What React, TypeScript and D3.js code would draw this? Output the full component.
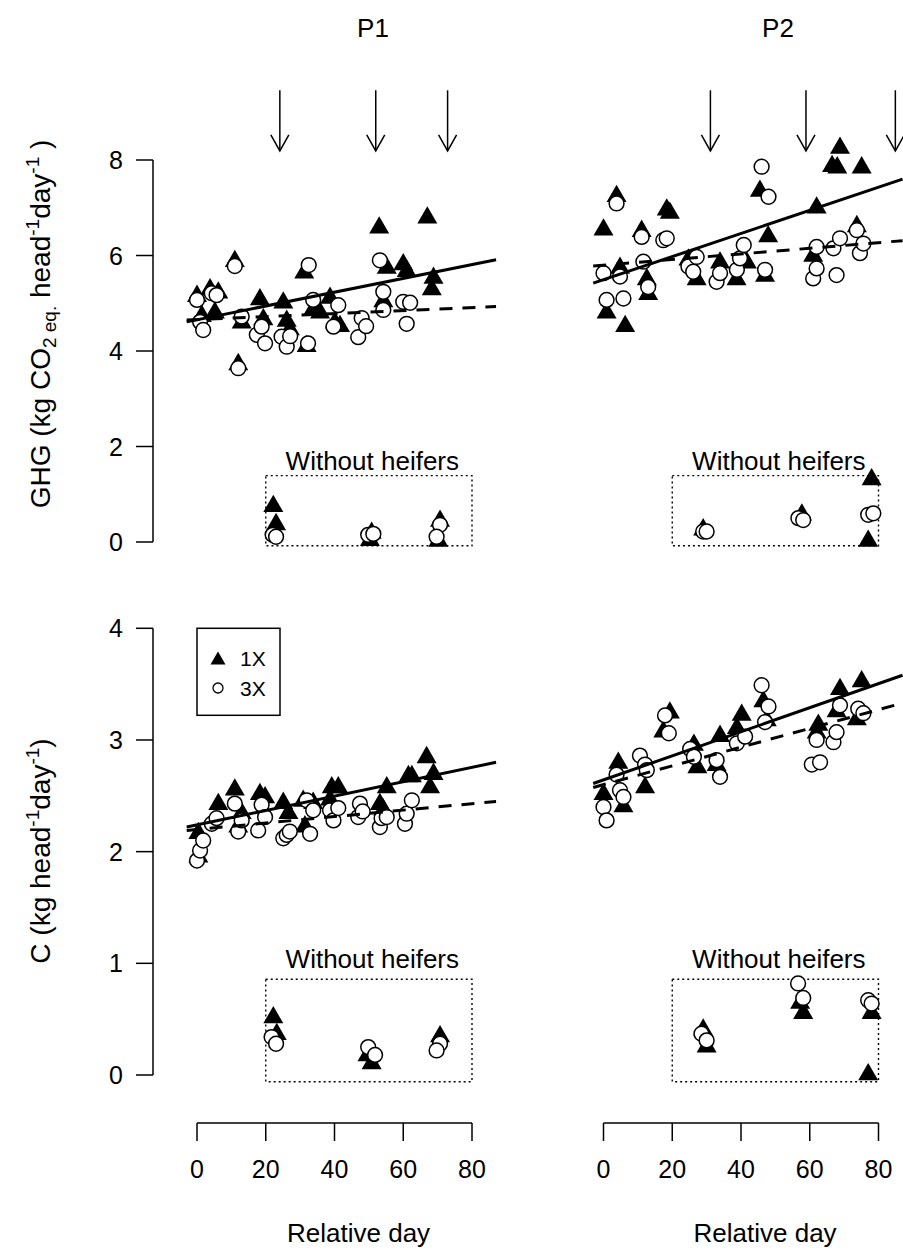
import React from "react";
import * as d3 from "d3";

const FONT = "'Liberation Sans', Arial, Helvetica, sans-serif";

// axis ticks
const dayTicks = [0, 20, 40, 60, 80];
const ghgTicks = [0, 2, 4, 6, 8];
const cTicks = [0, 1, 2, 3, 4];
const periods = ["P1", "P2"];

// regression lines: values at day -3 and day 87
const fitDays = [-3, 87];
const p1GhgSolid = [4.61, 5.91];
const p1GhgDashed = [4.65, 4.93];
const p2GhgSolid = [5.42, 7.6];
const p2GhgDashed = [5.78, 6.31];
const p1CSolid = [2.22, 2.8];
const p1CDashed = [2.19, 2.45];
const p2CSolid = [2.61, 3.58];
const p2CDashed = [2.575, 3.33];

// arrows (relative day)
const p1Arrows = [24.1, 52, 72.9];
const p2Arrows = [31.1, 58.9, 84.9];

// GHG, P1  [day, value]
const p1Ghg1X = [
  [0, 5.21], [1.4, 4.79], [3.8, 5.35], [5.2, 4.86], [6.2, 5.28], [11, 5.94], [12, 3.78],
  [13, 4.65], [18.3, 5.14], [19.3, 4.72], [25.1, 5.07], [26.1, 4.69], [27, 4.51], [31.2, 5.7],
  [31.9, 4.16], [33.8, 4.93], [35.8, 4.86], [38.7, 5.17], [40.1, 4.65], [41.6, 4.58], [53, 6.64],
  [54.2, 5.1], [55.2, 5.8], [60, 5.87], [61, 5.73], [67, 6.85], [68.3, 5.35], [68.8, 5.59],
];
const p1Ghg3X = [
  [0, 5.07], [0.9, 4.61], [1.8, 4.44], [4.3, 5.21], [5.7, 5.17], [11, 5.78], [12, 3.64],
  [13, 4.72], [17.4, 4.34], [18.8, 4.51], [19.8, 4.16], [24.6, 4.3], [26.1, 4.09], [27.1, 4.31],
  [32.3, 4.16], [32.5, 5.8], [33.8, 5.07], [39.7, 4.51], [41.1, 4.96], [46.9, 4.29], [47.9, 4.69],
  [49.2, 4.52], [53.2, 5.9], [54.2, 5.24], [54.2, 4.86], [60, 5.03], [61, 4.57], [62, 5.01],
];
const p1GhgWo1X = [[22.2, 0.81], [23, 0.43], [50.8, 0.25], [50.3, 0.1], [70.7, 0.5], [70.2, 0.08]];
const p1GhgWo3X = [[22, 0.15], [23, 0.11], [49.8, 0.15], [51.3, 0.17], [70.7, 0.36], [69.7, 0.11]];

// GHG, P2
const p2Ghg1X = [
  [0, 6.6], [0.9, 4.86], [3.8, 7.3], [4.8, 5.8], [6.3, 4.58], [11.1, 6.57], [12.6, 5.56],
  [13, 5.25], [18.4, 7.02], [19.3, 6.95], [24.7, 5.97], [27.1, 5.56], [33.9, 5.91], [38.7, 5.56],
  [41.7, 5.91], [45.5, 7.41], [47, 5.63], [47.9, 6.46], [61, 6.05], [62, 7.06], [66.5, 7.93],
  [68, 7.9], [68.8, 8.31], [73.7, 6.67], [75.1, 7.9],
];
const p2Ghg3X = [
  [0, 5.63], [0.9, 5.07], [3.8, 7.09], [4.8, 5.56], [5.8, 5.1], [11.1, 6.39], [11.6, 5.87],
  [13, 5.34], [17.4, 6.32], [18.4, 6.36], [24.7, 5.77], [26.1, 5.66], [27.1, 5.97], [32.9, 5.45],
  [33.9, 5.63], [38.8, 5.7], [39.7, 5.94], [40.8, 6.22], [46, 7.86], [47, 5.7], [48, 7.23],
  [61, 5.52], [62, 5.73], [62, 6.18], [66.9, 6.15], [67.8, 5.59], [68.8, 6.36], [73.7, 6.53],
  [74.6, 6.05], [75.6, 6.25],
];
const p2GhgWo1X = [[29, 0.32], [57.7, 0.63], [78, 1.37], [77, 0.08]];
const p2GhgWo3X = [[29, 0.22], [30, 0.22], [56.7, 0.5], [58.1, 0.46], [77, 0.57], [78.5, 0.6]];

// C, P1
const p1C1X = [
  [0.4, 2.19], [0.4, 1.98], [6.2, 2.45], [11, 2.58], [12, 2.25], [13, 2.37], [18.3, 2.54],
  [19.8, 2.51], [25.1, 2.46], [26.6, 2.37], [30.9, 2.48], [31.4, 2.25], [33.8, 2.46], [38.7, 2.49],
  [39.2, 2.6], [41.1, 2.6], [53.2, 2.45], [54.2, 2.4], [55.2, 2.6], [61.5, 2.7], [62.5, 2.7],
  [66.8, 2.87], [67.8, 2.6], [68.8, 2.72],
];
const p1C3X = [
  [0, 1.92], [0.9, 2.01], [1.8, 2.1], [4.3, 2.25], [5.7, 2.3], [11, 2.43], [12, 2.18], [13, 2.28],
  [17.8, 2.19], [18.8, 2.42], [19.8, 2.31], [25.1, 2.12], [26.1, 2.15], [27, 2.18], [31.9, 2.46],
  [32.9, 2.16], [33.8, 2.37], [38.7, 2.37], [39.7, 2.28], [41.1, 2.39], [46.9, 2.31], [47.4, 2.43],
  [48.2, 2.36], [53.2, 2.22], [53.7, 2.3], [55.2, 2.31], [60.5, 2.25], [61, 2.34], [62.5, 2.46],
];
const p1CWo1X = [[22.2, 0.54], [23.2, 0.39], [50.8, 0.13], [49.6, 0.2], [70.7, 0.37]];
const p1CWo3X = [[21.7, 0.34], [23, 0.28], [49.8, 0.25], [51.8, 0.18], [70.7, 0.28], [69.7, 0.22]];

// C, P2
const p2C1X = [
  [0, 2.54], [4.3, 2.82], [5.8, 2.43], [12.1, 2.6], [17.4, 3.1], [19.3, 3.27], [26.3, 2.98],
  [27.3, 2.78], [32.9, 2.8], [33.9, 3.06], [38.8, 3.13], [40.2, 3.25], [46.5, 3.37], [47.5, 3.2],
  [62, 3.09], [62.5, 3.16], [67.8, 3.28], [68.8, 3.48], [73.7, 3.21], [75.1, 3.55],
];
const p2C3X = [
  [0, 2.4], [0.9, 2.28], [3.8, 2.69], [4.8, 2.55], [5.8, 2.49], [10.6, 2.86], [12.1, 2.78],
  [12.6, 2.73], [17.9, 3.22], [19, 3.06], [25.2, 2.92], [26.3, 2.85], [32.9, 2.82], [33.9, 2.67],
  [38.8, 2.97], [41.2, 3.03], [46, 3.49], [47, 3.16], [48, 3.3], [60.6, 2.78], [62, 3.0],
  [63, 2.8], [66.9, 2.98], [67.8, 3.07], [68.8, 3.31], [74.1, 3.28], [75.6, 3.24],
];
const p2CWo1X = [[29, 0.43], [30, 0.28], [57.2, 0.67], [58.1, 0.58], [78, 0.58], [77, 0.03]];
const p2CWo3X = [[28.5, 0.37], [30, 0.31], [56.6, 0.82], [58.1, 0.69], [77, 0.67], [78, 0.64]];

const W = 903;
const H = 1250;

const xCols = [
  d3.scaleLinear().domain([0, 80]).range([197, 472]),
  d3.scaleLinear().domain([0, 80]).range([603.5, 878.5]),
];
const yGhg = d3.scaleLinear().domain([0, 8]).range([542, 160]);
const yC = d3.scaleLinear().domain([0, 4]).range([1075, 628.3]);

const panels = [
  { col: 0, y: yGhg, tri: p1Ghg1X, circ: p1Ghg3X, triWo: p1GhgWo1X, circWo: p1GhgWo3X, solid: p1GhgSolid, dashed: p1GhgDashed, arrows: p1Arrows, box: [-0.08, 1.39], label: 1.51 },
  { col: 1, y: yGhg, tri: p2Ghg1X, circ: p2Ghg3X, triWo: p2GhgWo1X, circWo: p2GhgWo3X, solid: p2GhgSolid, dashed: p2GhgDashed, arrows: p2Arrows, box: [-0.08, 1.39], label: 1.51 },
  { col: 0, y: yC, tri: p1C1X, circ: p1C3X, triWo: p1CWo1X, circWo: p1CWo3X, solid: p1CSolid, dashed: p1CDashed, arrows: [], box: [-0.06, 0.857], label: 0.96 },
  { col: 1, y: yC, tri: p2C1X, circ: p2C3X, triWo: p2CWo1X, circWo: p2CWo3X, solid: p2CSolid, dashed: p2CDashed, arrows: [], box: [-0.06, 0.857], label: 0.96 },
];

const triPath = (cx: number, cy: number, w = 20) => {
  const h = w * 0.866;
  return `M${cx},${cy - h / 2}L${cx + w / 2},${cy + h / 2}L${cx - w / 2},${cy + h / 2}Z`;
};

const Panel = ({ p }: { p: any }) => {
  const x = xCols[p.col];
  const y = p.y;
  const tris = [...p.tri, ...p.triWo];
  const circs = [...p.circ, ...p.circWo];
  const line = d3.line<number>().x((_, i) => x(fitDays[i])).y((v) => y(v));
  return (
    <g>
      {p.arrows.map((d: number, i: number) => {
        const ax = x(d);
        const y0 = yGhg(9.46);
        const y1 = yGhg(8.19);
        return (
          <g key={"a" + i} stroke="#000" strokeWidth={1.5} fill="none">
            <line x1={ax} x2={ax} y1={y0} y2={y1} />
            <path d={`M${ax - 9},${y1 - 16}L${ax},${y1}L${ax + 9},${y1 - 16}`} />
          </g>
        );
      })}
      <rect
        x={x(20)}
        y={y(p.box[1])}
        width={x(80) - x(20)}
        height={y(p.box[0]) - y(p.box[1])}
        fill="none"
        stroke="#000"
        strokeWidth={1.4}
        strokeDasharray="2,3"
      />
      <text x={x(51)} y={y(p.label)} textAnchor="middle" fontSize={26} fontFamily={FONT}>
        Without heifers
      </text>
      {tris.map((d: number[], i: number) => (
        <path key={"t" + i} d={triPath(x(d[0]), y(d[1]))} fill="#000" />
      ))}
      {circs.map((d: number[], i: number) => (
        <circle key={"c" + i} cx={x(d[0])} cy={y(d[1])} r={7.4} fill="#fff" stroke="#000" strokeWidth={1.5} />
      ))}
      <path d={line(p.solid) || ""} fill="none" stroke="#000" strokeWidth={3} />
      <path d={line(p.dashed) || ""} fill="none" stroke="#000" strokeWidth={3} strokeDasharray="13,10" />
    </g>
  );
};

const YAxis = ({ y, ticks }: { y: any; ticks: number[] }) => (
  <g stroke="#000" strokeWidth={1.5}>
    <line x1={153} x2={153} y1={y(ticks[0])} y2={y(ticks[ticks.length - 1])} />
    {ticks.map((t) => (
      <g key={t}>
        <line x1={136} x2={153} y1={y(t)} y2={y(t)} />
        <text x={123} y={y(t) + 9} textAnchor="end" fontSize={25} fontFamily={FONT} stroke="none" fill="#000">
          {t}
        </text>
      </g>
    ))}
  </g>
);

export default function App() {
  return (
    <div style={{ position: "absolute", left: 0, top: 0, width: W, height: H, background: "#fff" }}>
      <svg width={W} height={H} viewBox={`0 0 ${W} ${H}`} style={{ display: "block" }}>
        <rect width={W} height={H} fill="#fff" />
        {periods.map((t, i) => (
          <text key={t} x={[373, 778][i]} y={37} textAnchor="middle" fontSize={26} fontFamily={FONT}>
            {t}
          </text>
        ))}
        <YAxis y={yGhg} ticks={ghgTicks} />
        <YAxis y={yC} ticks={cTicks} />
        <text transform="translate(50,324) rotate(-90)" textAnchor="middle" fontSize={28} fontFamily={FONT}>
          GHG (kg CO
          <tspan fontSize={19} dy={6}>2 eq.</tspan>
          <tspan dy={-6}> head</tspan>
          <tspan fontSize={19} dy={-11}>-1</tspan>
          <tspan dy={11}>day</tspan>
          <tspan fontSize={19} dy={-11}>-1</tspan>
          <tspan dy={11}> )</tspan>
        </text>
        <text transform="translate(50,851) rotate(-90)" textAnchor="middle" fontSize={28} fontFamily={FONT}>
          C (kg head
          <tspan fontSize={19} dy={-11}>-1</tspan>
          <tspan dy={11}>day</tspan>
          <tspan fontSize={19} dy={-11}>-1</tspan>
          <tspan dy={11}>)</tspan>
        </text>
        {panels.map((p, i) => (
          <Panel key={i} p={p} />
        ))}
        {xCols.map((x, i) => (
          <g key={"x" + i} stroke="#000" strokeWidth={1.5}>
            <line x1={x(0)} x2={x(80)} y1={1123} y2={1123} />
            {dayTicks.map((t) => (
              <g key={t}>
                <line x1={x(t)} x2={x(t)} y1={1123} y2={1141} />
                <text x={x(t)} y={1178} textAnchor="middle" fontSize={25} fontFamily={FONT} stroke="none" fill="#000">
                  {t}
                </text>
              </g>
            ))}
            <text x={x(47)} y={1242} textAnchor="middle" fontSize={26} fontFamily={FONT} stroke="none" fill="#000">
              Relative day
            </text>
          </g>
        ))}
        <g>
          <rect x={xCols[0](0)} y={yC(4)} width={83} height={87} fill="#fff" stroke="#000" strokeWidth={1.5} />
          <path d={triPath(218, 658, 15)} fill="#000" />
          <circle cx={218} cy={688} r={5} fill="#fff" stroke="#000" strokeWidth={1.3} />
          <text x={240} y={666} fontSize={21} fontFamily={FONT}>1X</text>
          <text x={240} y={696} fontSize={21} fontFamily={FONT}>3X</text>
        </g>
      </svg>
    </div>
  );
}
